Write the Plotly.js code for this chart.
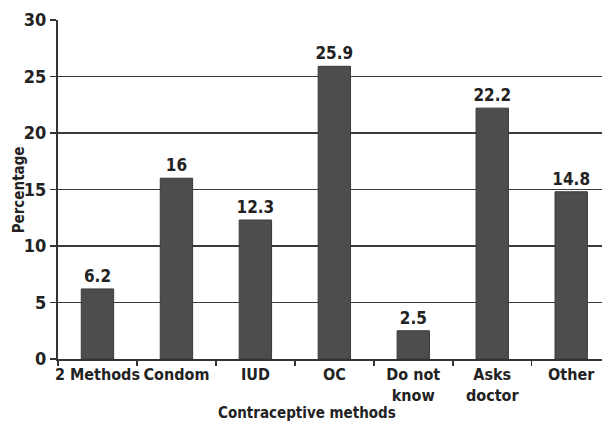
<!DOCTYPE html>
<html>
<head>
<meta charset="utf-8">
<script src="https://cdn.plot.ly/plotly-3.0.1.min.js"></script>
<style>html,body{margin:0;padding:0;background:#fff;}#chart{width:602px;height:429px;}</style>
</head>
<body>
<div id="chart"></div>
<script>
var categories = ["2 Methods", "Condom", "IUD", "OC", "Do not<br>know", "Asks<br>doctor", "Other"];
var percentages = [6.2, 16, 12.3, 25.9, 2.5, 22.2, 14.8];
var valueLabels = ["6.2", "16", "12.3", "25.9", "2.5", "22.2", "14.8"];
var yTicks = [0, 5, 10, 15, 20, 25, 30];

var FONT = "'DejaVu Sans Condensed', 'Liberation Sans Narrow', 'Arial Narrow', sans-serif";
var INK = "#222222";

var trace = {
  type: "bar",
  x: categories,
  y: percentages,
  text: valueLabels,
  textposition: "outside",
  texttemplate: "%{text}",
  constraintext: "none",
  cliponaxis: false,
  textfont: {family: FONT, size: 17, color: INK, weight: "bold"},
  marker: {color: "#4d4d4d", line: {color: "#3a3a3a", width: 1}},
  width: 0.41,
  hoverinfo: "none"
};

var layout = {
  width: 602,
  height: 429,
  margin: {l: 58, r: 0, t: 20, b: 70},
  paper_bgcolor: "#ffffff",
  plot_bgcolor: "#ffffff",
  showlegend: false,
  font: {family: FONT, color: INK, weight: "bold"},
  xaxis: {
    type: "category",
    range: [-0.5, 6.39],
    showline: true,
    linecolor: "#333333",
    linewidth: 2,
    ticks: "outside",
    tickson: "boundaries",
    ticklen: 5,
    tickwidth: 1.5,
    tickcolor: "#333333",
    tickangle: 0,
    tickfont: {family: FONT, size: 16, color: INK, weight: "bold"},
    showgrid: false,
    zeroline: false
  },
  yaxis: {
    range: [0, 30],
    tickvals: yTicks,
    ticktext: yTicks.map(String),
    showline: true,
    linecolor: "#333333",
    linewidth: 2,
    ticks: "outside",
    ticklen: 6,
    tickwidth: 1.5,
    tickcolor: "#333333",
    tickfont: {family: FONT, size: 18, color: INK, weight: "bold"},
    showgrid: true,
    gridcolor: "#3a3a3a",
    gridwidth: 1.3,
    zeroline: false
  },
  annotations: [
    {
      text: "Contraceptive methods",
      xref: "paper", yref: "paper",
      x: 0.458, y: 0, xanchor: "center", yanchor: "middle",
      yshift: -54,
      showarrow: false,
      font: {family: FONT, size: 15, color: INK, weight: "bold"}
    },
    {
      text: "Percentage",
      xref: "paper", yref: "paper",
      x: -0.072, y: 0.5, xanchor: "center", yanchor: "middle",
      textangle: -90,
      showarrow: false,
      font: {family: FONT, size: 15, color: INK, weight: "bold"}
    }
  ]
};

Plotly.newPlot("chart", [trace], layout, {staticPlot: true, displayModeBar: false});
</script>
</body>
</html>
